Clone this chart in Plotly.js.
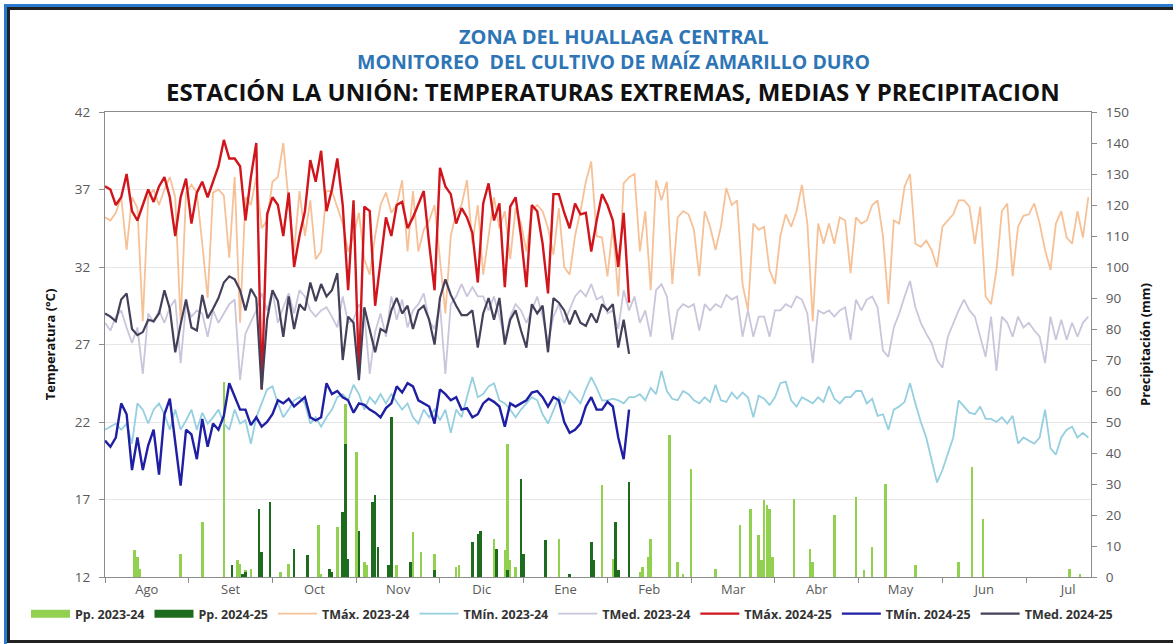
<!DOCTYPE html>
<html><head><meta charset="utf-8">
<script src="https://cdn.plot.ly/plotly-3.0.1.min.js"></script>
<style>
html,body{margin:0;padding:0;background:#fff;}
#wrap{position:relative;width:1173px;height:644px;overflow:hidden;background:#fff;}
#chart{position:absolute;left:0;top:0;width:1173px;height:644px;}
.b{position:absolute;pointer-events:none;box-sizing:border-box;}
</style></head><body>
<div id="wrap">
<div id="chart"></div>
<div class="b" style="left:4px;top:4px;width:1169px;height:640px;border-left:3px solid #2a7ad2;border-top:3px solid #2a7ad2;"></div>
<div class="b" style="left:7px;top:7px;width:1166px;height:636px;border-left:3px solid #222;border-top:3px solid #222;border-bottom:3px solid #222;"></div>
</div>
<script>
// ---------------- DATA ----------------
const months = ['Ago','Set','Oct','Nov','Dic','Ene','Feb','Mar','Abr','May','Jun','Jul'];
const tempTicks = [12,17,22,27,32,37,42];
const dayStep = 2; // series sampled every 2 days from 1 Aug

const tmax2324 = [35.2,35.0,35.5,36.5,33.1,36.5,35.8,28.5,36.5,37.0,36.0,37.0,37.8,36.5,28.4,36.8,37.3,36.8,33.5,30.0,36.8,37.0,36.6,32.6,37.8,28.4,36.5,36.0,37.8,34.5,35.0,37.5,37.8,40.0,36.2,33.0,36.9,34.0,36.3,32.5,33.0,36.9,36.9,35.8,34.8,33.0,
34.0,35.5,32.5,31.5,34.0,36.0,36.8,35.5,36.0,37.6,33.0,36.9,33.0,34.4,35.0,36.0,32.6,29.0,34.0,35.5,36.0,37.6,33.5,36.0,31.5,34.0,36.5,34.5,35.6,32.5,35.8,34.8,33.0,35.6,36.0,35.6,34.5,32.8,35.8,32.0,31.5,34.0,35.6,37.5,38.8,
34.0,33.9,31.4,34.6,30.1,37.4,37.8,38.0,33.0,35.6,30.5,37.6,36.3,37.5,30.9,35.2,35.6,35.4,34.4,31.4,35.6,34.6,33.1,34.6,37.1,36.0,36.3,30.9,29.2,34.8,34.4,34.6,31.8,30.9,34.0,35.4,34.6,35.6,37.3,34.8,28.5,34.8,33.5,34.8,33.5,
35.2,35.0,31.6,35.2,34.8,35.0,36.0,36.3,34.0,29.6,35.0,34.8,37.2,38.0,33.5,33.3,33.7,33.1,32.0,34.6,35.0,35.4,36.3,36.3,35.9,33.5,35.9,30.1,29.6,31.8,35.6,36.1,31.4,34.6,35.3,35.4,36.1,34.8,33.1,31.8,34.8,35.6,33.9,33.5,35.6,33.9,36.5];

const tmin2324 = [21.5,21.7,21.9,21.5,21.9,20.6,23.2,22.8,21.9,22.8,23.2,22.5,21.5,22.8,21.5,22.1,22.8,21.5,22.6,21.9,22.3,22.8,21.9,21.5,22.8,21.9,22.1,20.6,22.3,23.2,24.1,24.3,23.2,22.3,22.8,23.4,23.6,23.2,21.9,22.3,21.7,22.3,22.8,23.6,23.8,23.4,
24.4,23.8,22.8,23.6,23.2,23.8,23.2,23.8,23.3,22.8,23.2,22.3,21.9,22.8,22.3,22.8,22.1,22.8,21.3,22.8,22.3,23.6,24.9,23.6,23.8,24.3,24.5,23.4,23.2,22.8,22.3,22.8,23.2,23.6,23.4,22.5,21.9,22.8,23.6,23.2,24.0,23.6,23.2,24.1,24.9,
24.2,23.4,23.4,23.5,23.4,23.2,23.6,23.6,23.8,23.4,24.2,23.8,25.3,24.0,23.5,23.4,24.0,23.8,23.4,23.2,23.6,23.3,24.4,23.4,23.3,23.9,23.5,23.9,23.6,22.3,23.7,23.5,23.1,23.6,24.5,24.6,23.4,23.0,23.6,23.4,23.2,23.6,23.3,24.3,23.5,
23.2,23.6,23.6,24.0,24.0,23.2,23.5,22.4,22.5,21.5,22.8,23.0,23.3,24.5,23.2,22.0,21.0,19.5,18.1,18.9,19.9,21.0,23.4,23.0,22.6,22.5,23.0,22.2,22.2,22.0,22.3,21.9,22.4,20.6,21.0,20.8,20.6,21.0,22.8,20.3,19.9,21.0,21.5,21.7,21.0,21.3,21.0];

const tmed2324 = [28.4,27.9,28.8,29.2,28.1,27.1,28.1,25.1,29.0,28.4,29.2,28.4,29.4,29.9,25.8,29.6,28.8,29.2,29.0,27.5,29.2,28.4,29.0,29.6,29.9,24.7,27.7,28.4,29.2,30.3,29.2,30.5,28.4,29.4,30.3,29.0,30.5,30.1,29.2,28.8,29.2,29.4,28.8,28.1,30.1,28.4,
28.6,29.6,29.0,25.1,27.8,29.0,27.5,30.1,28.6,29.9,28.1,29.2,29.6,30.3,28.5,28.0,29.6,25.1,29.6,30.1,30.9,30.1,30.7,30.1,30.1,29.2,30.1,28.8,27.3,28.8,29.6,29.2,28.4,29.2,30.1,28.8,27.1,28.8,29.6,28.4,29.2,30.1,30.5,30.1,30.9,
29.9,30.1,29.0,29.2,28.0,30.5,29.2,30.1,28.4,29.2,27.5,30.5,30.9,30.1,27.3,29.2,29.6,29.4,29.6,27.9,29.6,29.2,29.6,29.4,30.2,29.9,30.1,27.5,29.2,27.5,28.8,28.8,27.5,29.2,29.2,29.6,29.4,30.1,29.9,29.0,25.8,29.2,29.0,29.2,28.8,
29.2,29.4,27.3,29.9,29.2,29.9,30.1,29.4,26.6,26.2,28.1,29.0,30.1,31.1,29.4,28.4,27.7,27.1,26.0,25.5,27.5,28.4,29.2,29.9,29.2,28.8,27.5,26.2,28.8,25.3,28.8,28.4,27.5,28.8,28.1,28.4,27.9,27.5,25.8,28.8,27.3,28.6,27.3,28.4,27.5,28.4,28.8];

const tmax2425 = [37.2,37.0,36.0,36.5,38.0,35.6,35.0,36.0,37.0,36.2,37.2,37.8,36.5,34.0,36.5,37.7,34.8,36.8,37.5,36.5,37.5,38.5,40.2,39.0,39.0,38.5,35.0,37.8,40.0,24.1,35.4,36.5,36.0,34.0,36.8,32.0,34.0,35.6,38.9,37.5,39.5,35.6,37.0,39.0,36.0,30.5,
36.3,25.1,35.9,35.6,29.5,32.5,35.2,34.0,36.0,36.2,34.5,35.2,36.0,36.9,33.5,30.5,38.4,37.2,36.7,34.8,35.8,35.2,34.2,31.0,36.1,37.4,35.0,36.1,30.7,35.9,36.5,34.0,30.7,36.0,35.6,33.5,30.3,36.7,36.7,35.5,34.5,36.1,35.4,35.5,33.0,
35.0,36.7,36.0,35.0,32.0,35.5,29.7];

const tmin2425 = [20.8,20.4,21.0,23.2,22.5,18.9,21.0,18.9,20.5,21.5,18.6,22.5,23.5,20.5,17.9,21.5,21.2,19.6,22.2,20.4,21.9,21.5,22.4,24.5,23.6,22.8,22.8,21.8,22.3,21.7,22.0,22.5,23.4,23.2,23.5,23.0,23.3,23.6,22.3,22.1,22.3,24.5,23.8,24.0,23.6,23.4,
22.6,23.2,23.1,22.8,22.6,22.3,22.9,23.2,24.3,23.9,24.5,24.3,23.4,23.2,23.0,21.9,24.1,23.8,23.4,23.6,22.8,22.9,22.3,22.5,23.2,23.5,23.3,23.0,21.7,23.2,23.0,23.2,23.4,23.9,24.0,23.6,23.0,23.6,23.4,22.0,21.3,21.5,21.9,23.0,23.6,
22.8,22.8,23.3,23.0,21.0,19.6,22.8];

const tmed2425 = [29.0,28.8,28.5,29.9,30.3,28.0,27.6,27.8,28.6,28.5,29.0,30.5,29.3,26.5,28.3,29.9,28.1,27.9,30.2,28.7,29.3,30.0,31.0,31.4,31.2,30.5,29.2,30.6,30.0,24.1,28.6,30.5,29.8,27.5,30.1,28.0,29.6,29.2,31.0,29.8,30.9,30.1,30.5,31.6,26.0,28.8,
28.4,24.7,29.4,28.0,26.5,28.0,27.8,29.2,30.0,29.0,29.5,28.0,29.2,29.5,28.6,27.0,30.0,31.2,30.2,29.5,28.9,28.9,29.2,26.8,29.0,30.0,28.6,30.0,27.0,28.6,29.2,27.9,26.8,29.6,29.0,29.5,26.5,30.0,29.7,29.2,28.3,29.2,28.4,28.2,29.0,
28.4,29.6,29.2,29.6,26.8,28.6,26.4];

const pp2324Days = [11,12,13,28,36,44,49,50,52,54,65,68,70,79,80,86,89,93,96,97,101,108,114,117,122,130,131,144,148,149,150,152,168,184,188,189,198,199,201,202,209,212,214,217,226,235,239,242,243,244,245,246,247,255,261,262,270,278,281,284,289,300,316,321,325,357,361];
const pp2324Vals = [8.6,6.5,2.5,7.5,17.7,62.9,5.4,4.3,2.2,2.7,1.6,4.3,6.5,16.7,1.1,16.1,55.9,40.3,4.8,3.8,5.0,3.8,14.5,8.0,7.5,3.2,3.8,12.4,8.6,43.0,5.4,3.2,12.4,29.6,5.9,6.5,1.6,3.2,6.5,12.4,45.7,4.8,1.1,34.9,2.7,16.7,22.0,13.4,5.4,24.7,23.1,22.0,6.5,25.3,9.1,4.8,19.9,25.8,2.2,9.7,30.1,3.8,4.8,35.5,18.8,2.7,1.1];

const pp2425Days = [47,51,52,57,58,61,70,75,83,84,88,89,90,94,99,100,101,105,106,113,122,136,138,139,145,149,154,155,163,172,180,181,189,190,194];
const pp2425Vals = [3.8,1.1,1.6,22.0,8.0,24.2,9.1,7.0,2.7,1.6,21.0,43.0,5.9,15.0,24.2,26.3,9.7,3.8,51.6,4.8,2.2,11.3,14.0,15.0,9.1,2.2,31.7,7.5,11.8,1.1,11.3,5.4,17.7,2.2,30.6];

// ---------------- CHART ----------------
const periodDays = 31;
const monthStarts = months.map((_, i) => i * periodDays);
const monthMids = months.map((_, i) => i * periodDays + periodDays / 2);
const dayX = arr => arr.map((_, i) => i * dayStep);

const C = {
  pp1:'#92d050', pp2:'#1d6b1d',
  tmax1:'#f6c197', tmin1:'#95cfe0', tmed1:'#cbc5dc',
  tmax2:'#d0161c', tmin2:'#1f1fa3', tmed2:'#45405a'
};
const FONT = '"Open Sans", Lato, "Liberation Sans", sans-serif';

function line(name, y, color, width) {
  return {type:'scatter', mode:'lines', name, x:dayX(y), y, yaxis:'y2',
    line:{color, width}, hoverinfo:'skip'};
}

const traces = [
  {type:'bar', name:'Pp. 2023-24', x:pp2324Days, y:pp2324Vals, width:0.95,
   marker:{color:C.pp1, line:{width:0}}, showlegend:false, legendgroup:'p1', hoverinfo:'skip'},
  {type:'bar', name:'Pp. 2024-25', x:pp2425Days, y:pp2425Vals, width:0.95,
   marker:{color:C.pp2, line:{width:0}}, showlegend:false, legendgroup:'p2', hoverinfo:'skip'},
  // legend entries for the precipitation bars (wide patches like the source)
  {type:'scatter', mode:'lines', name:'Pp. 2023-24', x:[null], y:[null], legendgroup:'p1',
   line:{color:C.pp1, width:8}, hoverinfo:'skip'},
  {type:'scatter', mode:'lines', name:'Pp. 2024-25', x:[null], y:[null], legendgroup:'p2',
   line:{color:C.pp2, width:8}, hoverinfo:'skip'},
  line('TMáx. 2023-24', tmax2324, C.tmax1, 1.8),
  line('TMín. 2023-24', tmin2324, C.tmin1, 1.8),
  line('TMed. 2023-24', tmed2324, C.tmed1, 1.8),
  line('TMáx. 2024-25', tmax2425, C.tmax2, 2.4),
  line('TMín. 2024-25', tmin2425, C.tmin2, 2.4),
  line('TMed. 2024-25', tmed2425, C.tmed2, 2.2)
];

const plotL = 105, plotR = 1091, plotT = 112, plotB = 577;
const py = px => (plotB - px) / (plotB - plotT);
const px = x => (x - plotL) / (plotR - plotL);

const layout = {
  width:1173, height:644,
  margin:{l:plotL, r:1173-plotR, t:plotT, b:644-plotB, pad:0},
  paper_bgcolor:'#fff', plot_bgcolor:'#fff',
  font:{family:FONT, color:'#595959', size:13},
  barmode:'overlay', bargap:0,
  showlegend:true,
  legend:{orientation:'h', x:px(26), xanchor:'left', y:py(599), yanchor:'top',
    font:{family:FONT, size:12.5, color:'#333333', weight:'bold'}, itemwidth:39,
    bgcolor:'rgba(0,0,0,0)', traceorder:'normal'},
  xaxis:{range:[0,365], tickmode:'array', tickvals:monthMids, ticktext:months, ticks:'',
    showgrid:false, zeroline:false, showline:true, linecolor:'#8c8c8c', linewidth:1, mirror:true,
    tickfont:{family:FONT, size:13, color:'#595959'},
    minor:{tickmode:'array', tickvals:monthStarts, ticks:'outside', ticklen:5, tickcolor:'#8c8c8c', tickwidth:1, showgrid:false}},
  yaxis:{side:'right', range:[0,150], tickmode:'linear', tick0:0, dtick:10, ticks:'outside', ticklen:5,
    tickcolor:'#8c8c8c', showline:true, linecolor:'#8c8c8c', showgrid:false, zeroline:false,
    tickfont:{family:FONT, size:13.5, color:'#595959'}, ticklabelstandoff:6,
    title:{text:'Precipitación (mm)', standoff:12, font:{family:FONT, size:13, color:'#111', weight:'bold'}}},
  yaxis2:{overlaying:'y', side:'left', range:[12,42], tickmode:'array', tickvals:tempTicks, ticks:'outside', ticklen:5,
    tickcolor:'#8c8c8c', showline:true, linecolor:'#8c8c8c', showgrid:true, gridcolor:'#e6e6e6', zeroline:false,
    tickfont:{family:FONT, size:13.5, color:'#595959'}, ticklabelstandoff:6,
    title:{text:'Temperatura (°C)', standoff:16, font:{family:FONT, size:13, color:'#111', weight:'bold'}}},
  annotations:[
    {text:'ZONA DEL HUALLAGA CENTRAL', xref:'paper', yref:'paper', x:px(613), y:py(36), xanchor:'center', yanchor:'middle',
     showarrow:false, font:{family:FONT, size:20, color:'#2e75b6', weight:'bold'}},
    {text:'MONITOREO\u00a0 DEL CULTIVO DE MAÍZ AMARILLO DURO', xref:'paper', yref:'paper', x:px(613), y:py(61), xanchor:'center', yanchor:'middle',
     showarrow:false, font:{family:FONT, size:19.5, color:'#2e75b6', weight:'bold'}},
    {text:'ESTACIÓN LA UNIÓN: TEMPERATURAS EXTREMAS, MEDIAS Y PRECIPITACION', xref:'paper', yref:'paper', x:px(613), y:py(91), xanchor:'center', yanchor:'middle',
     showarrow:false, font:{family:FONT, size:24, color:'#111111', weight:'bold'}}
  ]
};

Plotly.newPlot('chart', traces, layout, {displayModeBar:false, staticPlot:true});
</script>
</body></html>
